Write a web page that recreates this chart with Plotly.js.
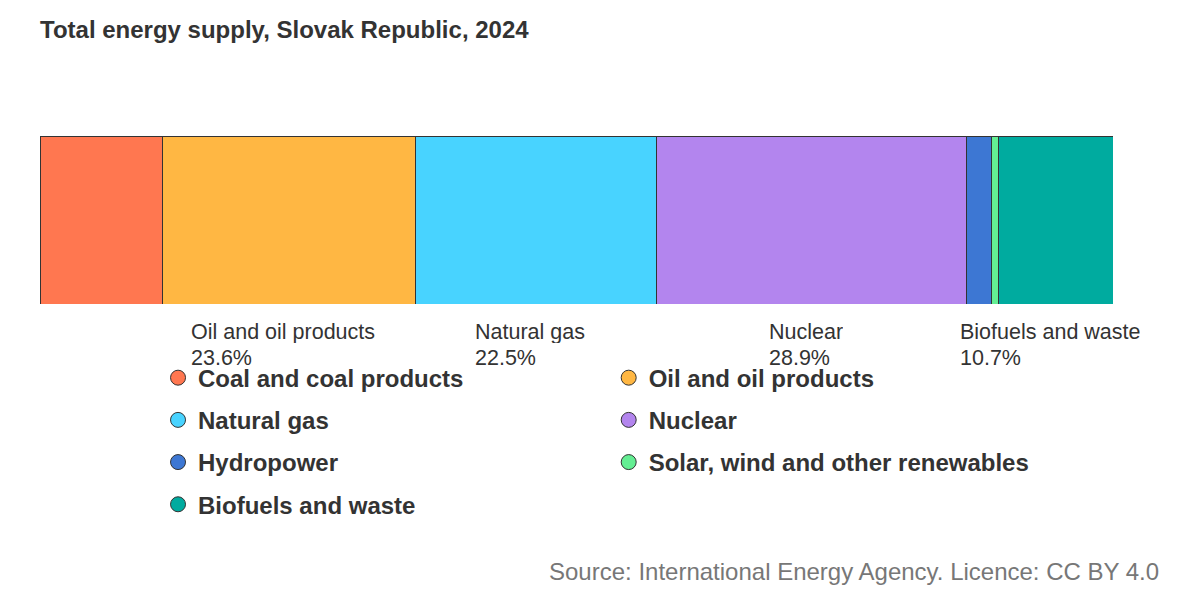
<!DOCTYPE html>
<html>
<head>
<meta charset="utf-8">
<script src="https://cdn.plot.ly/plotly-3.0.1.min.js"></script>
<style>
	html, body { margin: 0; padding: 0; background: #fff; }
	#chart { width: 1200px; height: 600px; }
</style>
</head>
<body>
<div id="chart"></div>
<script>
'use strict';

// shares of total energy supply, %
const sources = ['Coal and coal products', 'Oil and oil products', 'Natural gas', 'Nuclear',
	'Hydropower', 'Solar, wind and other renewables', 'Biofuels and waste'];
const shares = [11.4, 23.6, 22.5, 28.9, 2.4, 0.6, 10.7];
const colours = ['#ff7750', '#ffb743', '#48d3ff', '#b385ee', '#3d77d3', '#64ee93', '#00ab9f'];
// which segments get a label under the bar
const labelled = [false, true, true, true, false, false, true];
// legend column per source
const legendCol = [1, 2, 1, 2, 1, 2, 1];

document.addEventListener('DOMContentLoaded', function(){

	const fontFamily = 'Liberation Sans, Arial, sans-serif';
	const labelSize = 21.5;

	// measure the label width so the % line lines up with the name's left edge
	const ctx = document.createElement('canvas').getContext('2d');
	ctx.font = labelSize + 'px ' + fontFamily;

	const total = shares.reduce((a, b) => a + b, 0);
	const traces = [];
	const annotations = [];
	let start = 0;

	sources.forEach(function(name, i) {
		traces.push({
			type: 'bar',
			orientation: 'h',
			x: [shares[i]],
			y: ['TES'],
			name: name,
			showlegend: false,
			hoverinfo: 'name+x',
			marker: { color: colours[i], line: { color: '#333', width: 1 } }
		});

		// dummy scatter just for round legend markers
		traces.push({
			type: 'scatter',
			mode: 'markers',
			x: [null],
			y: [null],
			name: name,
			legend: legendCol[i] === 1 ? 'legend' : 'legend2',
			legendgroup: 'g' + i,
			marker: { color: colours[i], size: 15, symbol: 'circle', line: { color: '#333', width: 1 } }
		});

		if (labelled[i]) {
			const w = ctx.measureText(name).width;
			const mid = start + shares[i] / 2;
			const base = {
				x: mid, y: 0,
				xref: 'x', yref: 'paper',
				xanchor: 'left', yanchor: 'top',
				xshift: -w / 2 - 6.5,
				height: 22, valign: 'middle', borderpad: 0,
				showarrow: false,
				font: { size: labelSize, color: '#333' }
			};
			annotations.push(Object.assign({}, base, { text: name, yshift: -16 }));
			annotations.push(Object.assign({}, base, { text: shares[i].toFixed(1) + '%', yshift: -42 }));
		}
		start += shares[i];
	});

	// source line, bottom right
	annotations.push({
		x: 1.045, y: -1.595,
		xref: 'paper', yref: 'paper',
		xanchor: 'right', yanchor: 'middle',
		text: 'Source: International Energy Agency. Licence: CC BY 4.0',
		showarrow: false,
		font: { size: 24, color: '#777' }
	});

	const legendStyle = {
		orientation: 'v',
		yanchor: 'top',
		tracegroupgap: 8,
		font: { size: 24, color: '#333', weight: 'bold' },
		bgcolor: 'rgba(0,0,0,0)',
		itemclick: false
	};

	const layout = {
		width: 1200,
		height: 600,
		font: { family: fontFamily, color: '#333' },
		paper_bgcolor: '#fff',
		plot_bgcolor: '#fff',
		margin: { l: 40, r: 87, t: 136, b: 296 },
		title: {
			text: '<b>Total energy supply, Slovak Republic, 2024</b>',
			xref: 'paper', x: 0, xanchor: 'left',
			y: 0.95, yanchor: 'middle',
			font: { size: 24, color: '#333' }
		},
		barmode: 'stack',
		bargap: 0,
		xaxis: { range: [0, total], visible: false, fixedrange: true },
		yaxis: { range: [-0.5, 0.5], visible: false, fixedrange: true },
		legend: Object.assign({ x: 0.11, y: -0.307 }, legendStyle),
		legend2: Object.assign({ x: 0.53, y: -0.307 }, legendStyle),
		annotations: annotations,
		showlegend: true
	};

	Plotly.newPlot('chart', traces, layout, { displayModeBar: false, staticPlot: true });
});
</script>
</body>
</html>
